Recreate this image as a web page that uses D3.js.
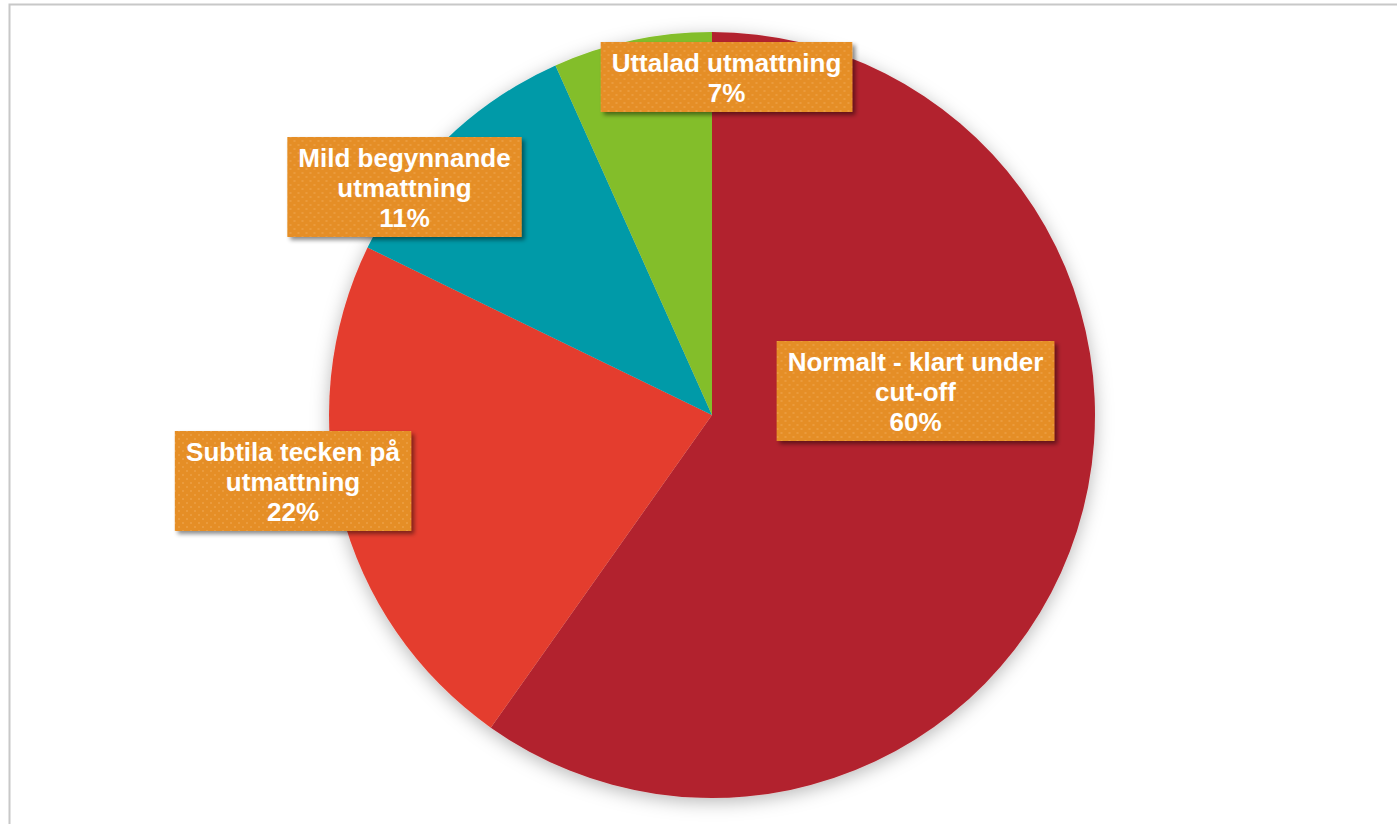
<!DOCTYPE html>
<html><head><meta charset="utf-8">
<script src="https://cdn.jsdelivr.net/npm/d3@7"></script>
<style>html,body{margin:0;padding:0;background:#fff;overflow:hidden}</style>
</head><body>
<svg id="chart" width="1397" height="824"></svg>
<script>
// Data
const categories = ["Normalt - klart under cut-off", "Subtila tecken på utmattning", "Mild begynnande utmattning", "Uttalad utmattning"];
const labelLines = [["Normalt - klart under", "cut-off"], ["Subtila tecken på", "utmattning"], ["Mild begynnande", "utmattning"], ["Uttalad utmattning"]];
const values = [59.8, 22.4, 11.1, 6.7];
const colors = ["#B2242E", "#E43D2F", "#009AA8", "#83BE2A"];

// Layout (label box centre offsets from pie centre)
const labelOffsets = [[203.5, -24], [-419, 66], [-307.5, -228], [14.5, -338]];

const W = 1397, H = 824;
const cx = 712, cy = 415, R = 383;
const svg = d3.select("#chart");

const defs = svg.append("defs");
const f = defs.append("filter").attr("id", "pieShadow").attr("x", "-20%").attr("y", "-20%").attr("width", "140%").attr("height", "140%");
f.append("feDropShadow").attr("dx", 0).attr("dy", 4).attr("stdDeviation", 9).attr("flood-color", "#000").attr("flood-opacity", 0.28);
const f2 = defs.append("filter").attr("id", "boxShadow").attr("x", "-20%").attr("y", "-30%").attr("width", "140%").attr("height", "160%");
f2.append("feDropShadow").attr("dx", 3).attr("dy", 3).attr("stdDeviation", 2).attr("flood-color", "#000").attr("flood-opacity", 0.45);
const pat = defs.append("pattern").attr("id", "dots").attr("width", 8).attr("height", 8).attr("patternUnits", "userSpaceOnUse");
pat.append("rect").attr("width", 8).attr("height", 8).attr("fill", "#E58E25");
pat.append("circle").attr("cx", 2).attr("cy", 2).attr("r", 0.9).attr("fill", "#F0AE5E").attr("opacity", 0.6);
pat.append("circle").attr("cx", 6).attr("cy", 6).attr("r", 0.9).attr("fill", "#F0AE5E").attr("opacity", 0.6);

// Frame
svg.append("path").attr("d", `M9.5,${H + 5} V4.5 H${W + 5}`).attr("fill", "none").attr("stroke", "#C8C8C8").attr("stroke-width", 2);

const pie = d3.pie().sort(null).value(d => d);
const arcs = pie(values);
const arc = d3.arc().innerRadius(0).outerRadius(R);

const g = svg.append("g").attr("transform", `translate(${cx},${cy})`);
g.append("g").attr("filter", "url(#pieShadow)")
  .selectAll("path").data(arcs).join("path")
  .attr("d", arc).attr("fill", (d, i) => colors[i]);

const fmt = v => Math.round(v) + "%";
const fontSize = 26, lineH = 30, padY = 5, padX = 11;

const lg = g.append("g");
arcs.forEach((a, i) => {
  const lines = labelLines[i].concat([fmt(values[i])]);
  const grp = lg.append("g").attr("transform", `translate(${labelOffsets[i][0]},${labelOffsets[i][1]})`);
  const txt = grp.append("text").attr("text-anchor", "middle")
    .attr("font-family", "Liberation Sans, Arial, sans-serif").attr("font-weight", "bold")
    .attr("font-size", fontSize).attr("fill", "#fff");
  const h = lines.length * lineH + 2 * padY;
  lines.forEach((l, k) => {
    txt.append("tspan").attr("x", 0).attr("y", -h / 2 + padY + k * lineH + 25).text(l);
  });
  const bb = txt.node().getBBox();
  const w = bb.width + 2 * padX;
  grp.insert("rect", "text").attr("x", -w / 2).attr("y", -h / 2).attr("width", w).attr("height", h)
    .attr("fill", "url(#dots)").attr("filter", "url(#boxShadow)");
});
</script>
</body></html>
